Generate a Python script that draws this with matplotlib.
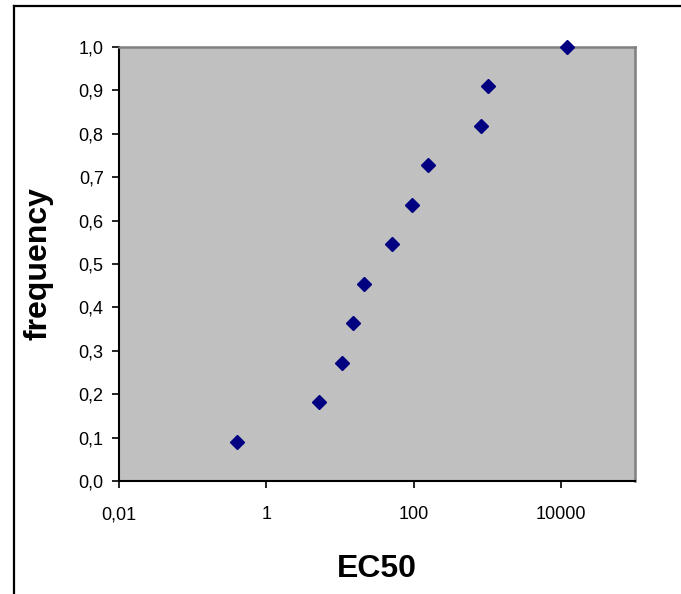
import matplotlib
matplotlib.use('Agg')

import matplotlib.pyplot as plt
from matplotlib.lines import Line2D
from matplotlib.ticker import FixedLocator, FuncFormatter

# data
ec50 = [0.40, 5.1, 10.5, 14.8, 20.9, 50.2, 94, 155, 816, 1016, 12100]
frequency = [1/11, 2/11, 3/11, 4/11, 5/11, 6/11, 7/11, 8/11, 9/11, 10/11, 11/11]

x_ticks = [0.01, 1, 100, 10000]
x_tick_labels = ['0,01', '1', '100', '10000']
y_ticks = [0.0, 0.1, 0.2, 0.3, 0.4, 0.5, 0.6, 0.7, 0.8, 0.9, 1.0]

plt.rcParams['font.family'] = ['Liberation Sans', 'DejaVu Sans']

W, H = 681, 594
fig = plt.figure(figsize=(W / 100, H / 100), dpi=100)

# plot area in pixels: x 119..635, y 47..481
ax = fig.add_axes([119 / W, (H - 481) / H, (635 - 119) / W, (481 - 47) / H])
ax.set_facecolor('#c0c0c0')

ax.plot(ec50, frequency, linestyle='none', marker='D', markersize=7.5,
        color='#000080', clip_on=False, zorder=5)

ax.set_xscale('log')
ax.set_xlim(0.01, 1e5)
ax.set_ylim(0, 1.0)

ax.xaxis.set_major_locator(FixedLocator(x_ticks))
ax.xaxis.set_minor_locator(FixedLocator([]))
ax.set_xticklabels(x_tick_labels)
ax.set_yticks(y_ticks)
ax.yaxis.set_major_formatter(FuncFormatter(lambda v, p: '{:.1f}'.format(v).replace('.', ',')))

ax.tick_params(axis='both', direction='out', length=5, width=1.2, color='black',
               labelsize=13)
ax.tick_params(axis='x', pad=13)
ax.tick_params(axis='y', pad=6)

for side in ['bottom', 'left']:
    ax.spines[side].set_color('black')
    ax.spines[side].set_linewidth(1.5)
for side in ['top', 'right']:
    ax.spines[side].set_color('#808080')
    ax.spines[side].set_linewidth(1.8)

ax.set_xlabel('EC50', fontsize=23, fontweight='bold', labelpad=22)
ax.set_ylabel('frequency', fontsize=23, fontweight='bold', labelpad=18)

# outer chart frame (only left and top edges are visible)
fig.add_artist(Line2D([14 / W, 14 / W], [0, 1 - 6 / H], color='black', linewidth=1.6))
fig.add_artist(Line2D([14 / W, 1], [1 - 6 / H, 1 - 6 / H], color='black', linewidth=1.6))

fig.savefig('out.png', dpi=100)
